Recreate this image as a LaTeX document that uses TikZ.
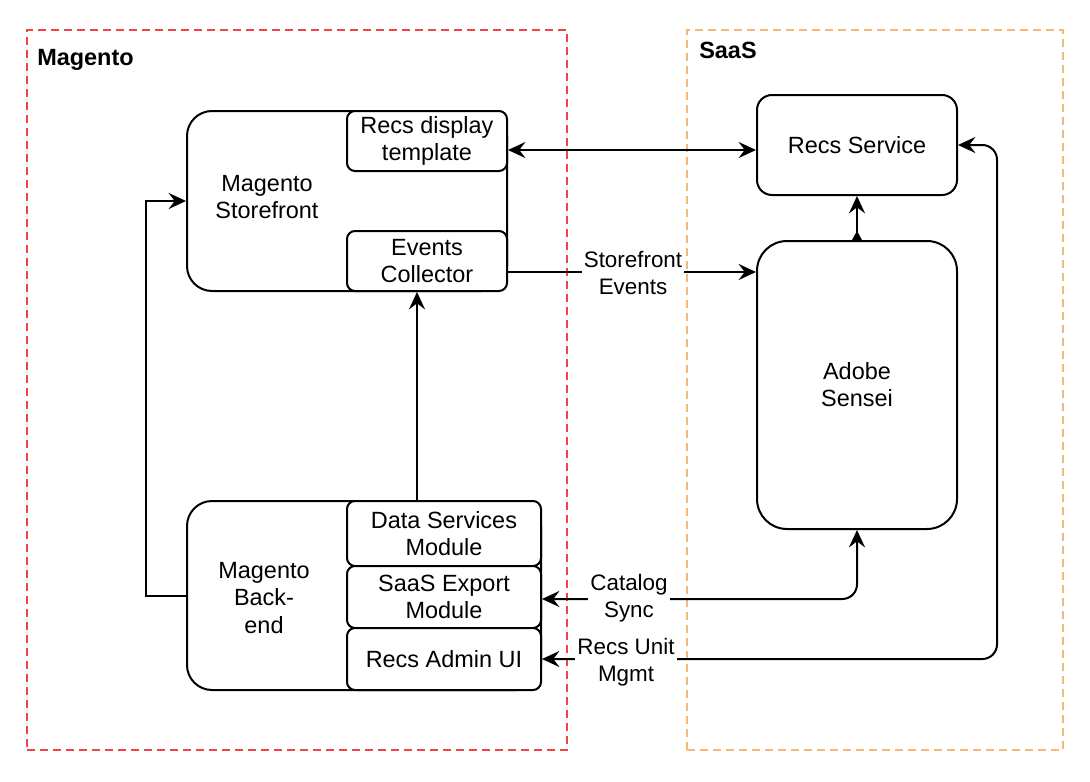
\documentclass[tikz,border=0pt]{standalone}
\usepackage{fontspec}
\setmainfont{Liberation Sans}
\usetikzlibrary{arrows.meta,calc}
\definecolor{magred}{RGB}{240,68,68}
\definecolor{saasorange}{RGB}{245,184,118}
\newcommand\mybxfont{\fontsize{17.6}{20.3}\selectfont}
\newcommand\mylblfont{\fontsize{16.8}{20}\selectfont}
\newcommand\mytitlefont{\fontsize{17.6}{20.3}\selectfont\bfseries}
\begin{document}
\begin{tikzpicture}[x=0.75pt,y=-0.75pt,
  >={Stealth[length=13pt,width=12pt,inset=4.5pt]},
  box/.style={draw, fill=white, line width=1.5pt, rectangle, inner sep=0pt, align=center, font=\mybxfont},
  txt/.style={inner sep=0pt, align=center, font=\mybxfont},
  lbl/.style={fill=white, inner sep=1.5pt, align=center, font=\mylblfont},
  title/.style={inner sep=0pt, font=\mytitlefont},
  cont/.style={rectangle, line width=1.5pt, dash pattern=on 6pt off 3.75pt, inner sep=0pt},
  conn/.style={line width=1.5pt}]
\useasboundingbox (0,0) rectangle (1090,782);
\fill[white] (0,0) rectangle (1090,782);

% containers
\node[cont, draw=magred, minimum width=405pt, minimum height=540pt] (magento) at (297,390) {};
\node[cont, draw=saasorange, minimum width=282pt, minimum height=540pt] (saas) at (875,390) {};
\node[title, anchor=base west] (magtitle) at (37,65) {Magento};
\node[title, anchor=base west] (saastitle) at (699,58) {SaaS};

% Magento storefront
\node[box, rounded corners=18.75pt, minimum width=240pt, minimum height=135pt] (storefront) at (347,201) {};
\node[txt] (sftext) at (267,197) {Magento\\Storefront};
\node[box, rounded corners=6pt, minimum width=120pt, minimum height=45pt] (recsdisp) at (427,141) {Recs display\\template};
\node[box, rounded corners=6pt, minimum width=120pt, minimum height=45pt] (events) at (427,261) {Events\\Collector};

% Magento backend
\node[box, rounded corners=18.75pt, minimum width=265.5pt, minimum height=141.75pt] (backend) at (364,595.5) {};
\node[txt] (betext) at (264,598) {Magento\\Back-\\end};
\node[box, rounded corners=6pt, minimum width=145.5pt, minimum height=48.75pt] (dsm) at (444,533.5) {Data Services\\Module};
\node[box, rounded corners=6pt, minimum width=145.5pt, minimum height=46.5pt] (export) at (444,597) {SaaS Export\\Module};
\node[box, rounded corners=6pt, minimum width=145.5pt, minimum height=46.5pt] (admin) at (444,659) {Recs Admin UI};

% SaaS
\node[box, rounded corners=11.25pt, minimum width=150pt, minimum height=75pt] (recs) at (857,145) {Recs Service};
\node[box, rounded corners=22.5pt, minimum width=150pt, minimum height=216pt] (sensei) at (857,385) {};
\node[txt] (sensetext) at (857,385) {Adobe\\Sensei};

% connectors
\coordinate (yA) at (0,150);
\coordinate (yB) at (0,272);
\coordinate (rcorner) at (997,145);
\draw[conn, <->] (recsdisp.east |- yA) -- (recs.west |- yA);
\draw[conn, ->] (events.east |- yB) -- (sensei.west |- yB);
\draw[conn, ->] (sensei.north) -- (recs.south);
\fill ($(sensei.north)+(-5,0)$) -- ($(sensei.north)+(5,0)$) -- ($(sensei.north)+(0,-9)$) -- cycle;
\draw[conn, ->] (backend.north) ++(53,0) coordinate (evs) -- (evs |- events.south);
\draw[conn, ->] (backend.west) -- ++(-40,0) |- (storefront.west);
\draw[conn, <->, rounded corners=11pt] (export.east) ++(0,2) coordinate (exp) -| (sensei.south);
\draw[conn, <->, rounded corners=11pt] (admin.east) -| (rcorner) -- (recs.east);

% labels
\node[lbl] (lsf) at (633,273) {Storefront\\Events};
\node[lbl] (lcs) at (629,598) {Catalog\\Sync};
\node[lbl] (lru) at (626,662) {Recs Unit\\Mgmt};
\end{tikzpicture}
\end{document}
